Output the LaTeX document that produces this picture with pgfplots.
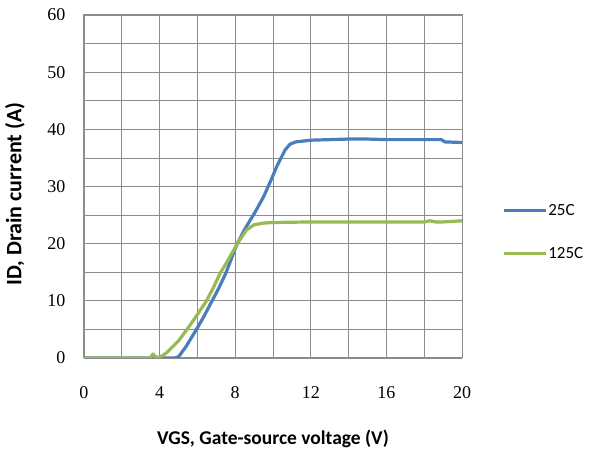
\documentclass[border=0pt]{standalone}
\usepackage{pgfplots}
\pgfplotsset{compat=1.18}
\usepackage{fontspec}
\setmainfont{Carlito}
\newfontfamily\tickfont{Liberation Serif}
\definecolor{s25}{HTML}{4A7EBB}
\definecolor{s125}{HTML}{98B954}
\definecolor{gridc}{HTML}{8C8C8C}
\begin{document}
\begin{tikzpicture}
\useasboundingbox (-84pt,-96pt) rectangle (511pt,358pt);
\begin{axis}[
  at={(0,0)}, anchor=south west,
  scale only axis, width=378pt, height=343pt,
  xmin=0, xmax=20, ymin=0, ymax=60,
  xtick={0,4,...,20}, minor xtick={2,6,...,18},
  ytick={0,10,...,60}, minor ytick={5,15,...,55},
  grid=both,
  major grid style={gridc, line width=0.8pt},
  minor grid style={gridc, line width=0.8pt},
  major tick length=0pt, minor tick length=0pt,
  axis line style={gridc, line width=1pt},
  /pgf/number format/assume math mode=true,
  tick label style={font=\tickfont\fontsize{18}{20}\selectfont},
  xticklabel style={yshift=-25pt},
  yticklabel style={xshift=-15pt},
  xlabel={VGS, Gate-source voltage (V)},
  ylabel={ID, Drain current (A)},
  xlabel style={at={(axis description cs:0.5,0)}, anchor=base, yshift=-87pt, font=\bfseries\fontsize{19.5}{22}\selectfont},
  ylabel style={at={(axis description cs:-0.183,0.478)}, anchor=center, font=\bfseries\fontsize{22}{24}\selectfont},
  legend style={draw=none, fill=none, at={(axis description cs:1.106,0.367)}, anchor=west, inner sep=0pt, row sep=28pt,
    nodes={inner sep=1pt}, font=\fontsize{17}{19}\selectfont},
  legend cell align=left,
  legend image code/.code={\draw[#1, line width=3pt] (0pt,0pt) -- (42pt,0pt);},
]
\addplot[s25, line width=3.2pt, line join=round] coordinates {
(0,0) (4.8,0) (5.0,0.2) (5.4,2.0) (5.93,4.9) (6.3,7) (6.76,9.9) (7.1,12) (7.5,14.8)
(8.08,19.8) (8.5,22.5) (9.05,25.5) (9.5,28.2) (9.88,31.0) (10.2,33.5) (10.64,36.4)
(10.9,37.4) (11.2,37.8) (12,38.1) (13,38.2) (14,38.3) (15,38.3) (16,38.2) (17,38.2)
(18,38.2) (18.9,38.2) (19.1,37.8) (20,37.7)
};
\addlegendentry{25C}
\addplot[s125, line width=3.2pt, line join=round] coordinates {
(0,0) (3.5,0) (3.65,0.7) (3.8,0.2) (4.0,0.1) (4.37,0.9) (4.7,2.0) (5.0,3.0) (5.43,4.9)
(6.0,7.6) (6.46,9.9) (6.8,12) (7.2,14.8) (7.6,17) (8.08,19.8) (8.35,21.2) (8.6,22.4)
(9.0,23.3) (9.5,23.6) (10,23.7) (12,23.8) (14,23.8) (16,23.8) (18,23.8) (18.3,24.0)
(18.6,23.8) (19,23.8) (20,24.0)
};
\addlegendentry{125C}
\end{axis}
\end{tikzpicture}
\end{document}
